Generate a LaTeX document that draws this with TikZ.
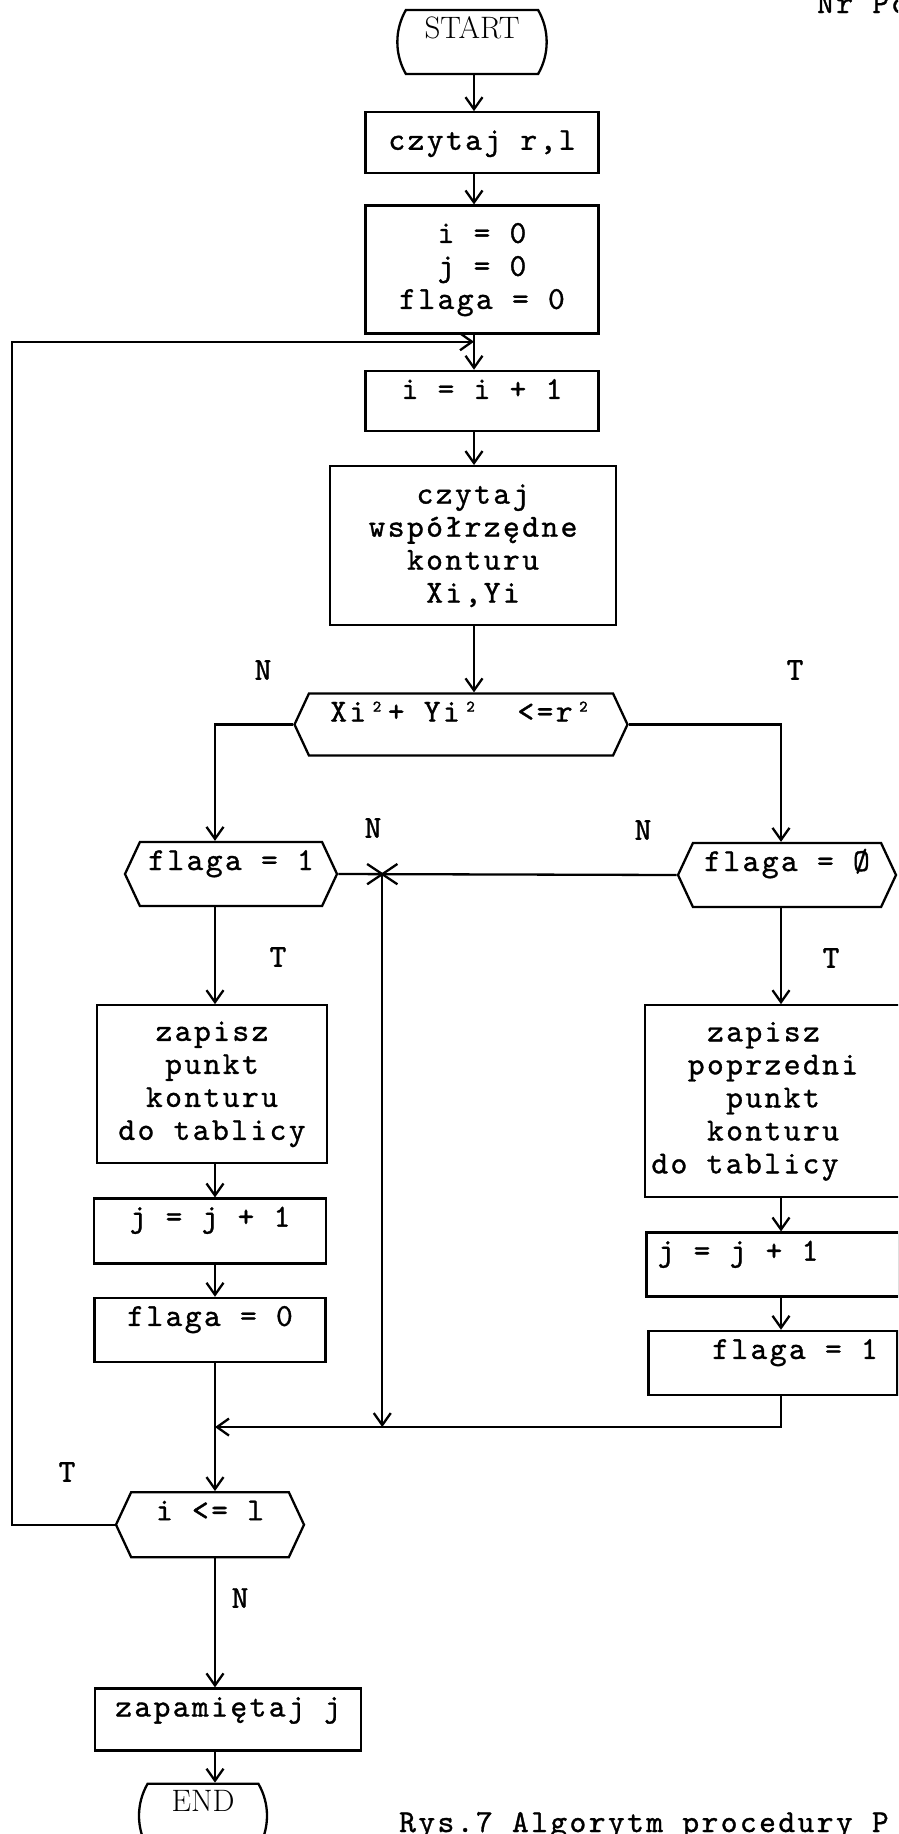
\documentclass[tikz,border=0pt]{standalone}
\usepackage{fontspec}
\usepackage{tikz}
\usetikzlibrary{arrows.meta,calc,positioning,shapes.misc,shapes.symbols}

\newfontfamily\twfam{lmmono10-regular}[Extension=.otf,LetterSpace=7.5,FakeBold=1]
\newcommand\typew{\fontsize{32}{33}\selectfont\twfam}

\tikzset{
  blk/.style={draw,line width=2.3pt,inner xsep=4pt,inner ysep=6pt,font=\typew},
  box/.style={blk,text height=22pt,text depth=8pt},
  dec/.style={box,signal,signal to=west and east,signal pointer angle=130},
  term/.style={draw,line width=2.3pt,rounded rectangle,rounded rectangle arc length=60,
    inner ysep=6pt,text height=22pt,font=\fontsize{31}{33}\selectfont\rmfamily},
  lbl/.style={font=\typew,inner sep=0pt},
}

\begin{document}
\begin{tikzpicture}[x=1pt,y=-1pt,>={Straight Barb[length=12pt,width=17pt]},line width=2.3pt]
  \useasboundingbox (0,0) rectangle (898,1834);
  \clip (0,0) rectangle (898,1834);
  \coordinate (mc) at (474,0);
  \coordinate (lc) at (215,0);
  \coordinate (rc) at (781,0);

  % main column
  \node[term,minimum width=156pt,text depth=30pt] (start) at (472,42) {START};
  \node[box,minimum width=233pt,minimum height=61pt,below=36pt of start,xshift=10pt] (rl) {czytaj r,l};
  \node[blk,align=center,minimum width=233pt,minimum height=128pt,below=30pt of rl] (init) {i = 0\\j = 0\\flaga = 0};
  \node[box,minimum width=233pt,text depth=26pt,below=35pt of init] (inc) {i = i + 1};
  \node[blk,align=center,minimum width=286pt,minimum height=159pt,below=33pt of inc,xshift=-9pt] (rd)
    {czytaj\\współrzędne\\konturu\\Xi,Yi};
  \node[dec,minimum width=333pt,text depth=28pt,below=66pt of rd,xshift=-12pt] (cmp) {Xi²+ Yi²~ <=r²};

  % left branch
  \node[dec,minimum width=212pt,text depth=30pt] (f1) at (231,874) {flaga = 1};
  \node[blk,align=center,minimum width=230pt,minimum height=158pt,below=97pt of f1,xshift=-19pt] (zl)
    {zapisz\\punkt\hspace*{19pt}\\konturu\hspace*{19pt}\\do tablicy};
  \node[box,minimum width=232pt,text depth=31pt,below=33pt of zl,xshift=-2pt] (jl) {j = j + 1};
  \node[box,minimum width=231pt,text depth=30pt,below=32pt of jl] (fl0) {flaga = 0};
  \node[dec,minimum width=188pt,text depth=31pt,below=128pt of fl0] (chk) {i <= l};
  \node[box,minimum width=266pt,text depth=28pt,below=129pt of chk,xshift=18pt] (save) {zapamiętaj j};
  \node[term,minimum width=105pt,text depth=30pt,below=31pt of save,xshift=-25pt] (end) {END};

  % right branch
  \node[dec,minimum width=218pt,text depth=30pt] (fz) at (787,875) {flaga = Ø};
  \node[blk,align=center,minimum width=256pt,minimum height=192pt,below=96pt of fz,xshift=-14pt] (zr)
    {zapisz\hspace*{19pt}\\poprzedni\\punkt\\konturu\\do tablicy\hspace*{56pt}};
  \node[box,minimum width=253pt,text depth=30pt,below=33pt of zr] (jr) {j = j + 1\hspace*{70pt}};
  \node[box,minimum width=249pt,text depth=30pt,below=32pt of jr] (fr1) {\hspace*{44pt}flaga = 1};

  % junction of both N exits
  \node[draw,cross out,line width=2.3pt,minimum width=28pt,minimum height=18pt,inner sep=0pt]
    (mrg) at ($(f1.east)!.13!(fz.west)$) {};

  % labels
  \node[lbl] (nc) at (263,670) {N};
  \node[lbl] (tc) at (795,670) {T};
  \node[lbl] (nf1) at (373,828) {N};
  \node[lbl] (nfz) at (643,830) {N};
  \node[lbl] (tf1) at (278,957) {T};
  \node[lbl] (tfz) at (831,958) {T};
  \node[lbl] (tchk) at (67,1472) {T};
  \node[lbl] (nchk) at (240,1598) {N};
  \node[lbl,anchor=base west] (nr) at (816,13) {Nr Po};
  \node[lbl,anchor=base west] (cap) at (398,1832) {Rys.7 Algorytm procedury P};

  % main flow
  \draw[->] (start.south -| mc) -- (rl.north -| mc);
  \draw[->] (rl.south -| mc) -- (init.north -| mc);
  \draw[->] (init.south -| mc) -- (inc.north -| mc);
  \draw[->] (inc.south -| mc) -- (rd.north -| mc);
  \draw[->] (rd.south -| mc) -- (cmp.north -| mc);
  \draw[->] (cmp.west) -| (f1.north -| lc);
  \draw[->] (cmp.east) -| (fz.north -| rc);

  \draw[->] (f1.south -| lc) -- (zl.north -| lc);
  \draw[->] (zl.south -| lc) -- (jl.north -| lc);
  \draw[->] (jl.south -| lc) -- (fl0.north -| lc);
  \draw[->] (fl0.south -| lc) -- (chk.north -| lc);
  \draw[->] (chk.south -| lc) -- (save.north -| lc);
  \draw[->] (save.south -| lc) -- (end.north -| lc);

  \draw[->] (fz.south -| rc) -- (zr.north -| rc);
  \draw[->] (zr.south -| rc) -- (jr.north -| rc);
  \draw[->] (jr.south -| rc) -- (fr1.north -| rc);

  % N exits and merge
  \coordinate (jn) at ($(fl0.south -| lc)!.5!(chk.north -| lc)$);
  \draw (f1.east) -- (mrg.center) -- (fz.west);
  \draw[->] (mrg.center) -- (mrg |- jn);
  \draw[->] (fr1.south -| rc) |- (jn);

  % loop back
  \coordinate (back) at ($(init.south -| mc)!.2!(inc.north -| mc)$);
  \draw[->] (chk.west) -- ++(-103,0) |- (back);
\end{tikzpicture}
\end{document}
